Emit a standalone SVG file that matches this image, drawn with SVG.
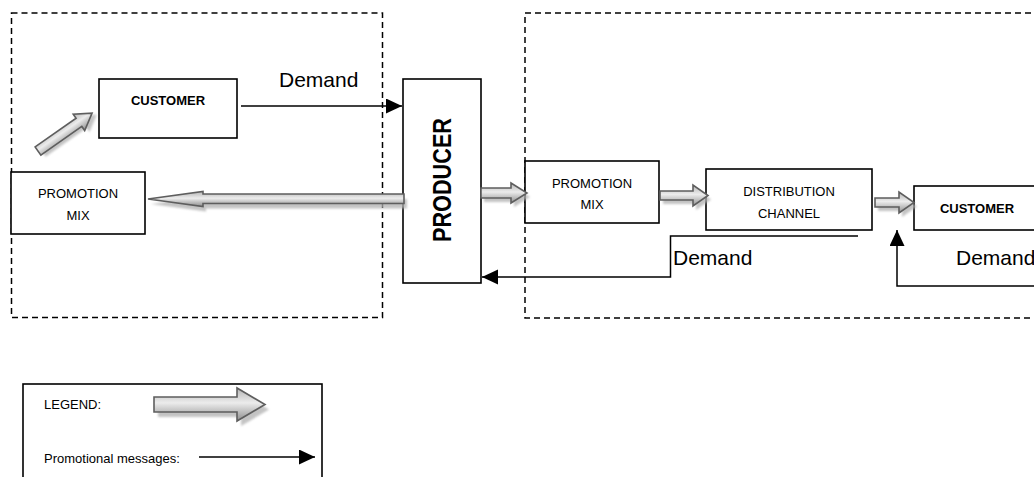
<svg xmlns="http://www.w3.org/2000/svg" width="1034" height="477" viewBox="0 0 1034 477">
  <style>
    .box { fill: #fff; stroke: #000; stroke-width: 1.6; }
    .zone { fill: none; stroke: #000; stroke-width: 1.5; stroke-dasharray: 6 4; }
    .wire { fill: none; stroke: #000; stroke-width: 1.5; }
    .fat { fill: url(#fatFill); stroke: #5e5e5e; stroke-width: 1.6; stroke-linejoin: miter; }
    .fatShadow { fill: #b0b0b0; opacity: 0.75; filter: url(#soft); }
    .lbl { font-family: "Liberation Sans", Arial, sans-serif; fill: #000; text-anchor: middle; }
    .small { font-size: 13px; }
    .bold { font-weight: bold; }
    .demand { font-family: "Liberation Sans", Arial, sans-serif; font-size: 21px; fill: #000; }
    .note { font-family: "Liberation Sans", Arial, sans-serif; font-size: 13px; fill: #000; }
  </style>
  <defs>
    <linearGradient id="fatFill" x1="0" y1="0" x2="0" y2="1">
      <stop offset="0" stop-color="#b4b4b4"/>
      <stop offset="0.45" stop-color="#ececec"/>
      <stop offset="1" stop-color="#8e8e8e"/>
    </linearGradient>
    <filter id="soft" x="-20%" y="-50%" width="140%" height="200%">
      <feGaussianBlur stdDeviation="1"/>
    </filter>
    <marker id="head" markerUnits="userSpaceOnUse" markerWidth="17" markerHeight="16" refX="16" refY="7.5" orient="auto">
      <path d="M0,0 L16,7.5 L0,15 Z" fill="#000"/>
    </marker>
  </defs>

  <!-- dashed zones -->
  <g id="zones">
    <rect class="zone" x="11.5" y="13" width="371" height="304.5"/>
    <rect class="zone" x="525" y="13" width="620" height="305"/>
  </g>

  <!-- nodes -->
  <g id="customer-left">
    <rect class="box" x="99" y="79" width="138" height="59"/>
    <text class="lbl small bold" x="168" y="105">CUSTOMER</text>
  </g>
  <g id="promotion-mix-left">
    <rect class="box" x="11" y="172" width="134" height="62"/>
    <text class="lbl small" x="78" y="198">PROMOTION</text>
    <text class="lbl small" x="78" y="220">MIX</text>
  </g>
  <g id="producer">
    <rect class="box" x="403" y="79" width="78" height="204"/>
    <text class="lbl bold" font-size="25" textLength="124" lengthAdjust="spacingAndGlyphs" transform="translate(451,180) rotate(-90)">PRODUCER</text>
  </g>
  <g id="promotion-mix-right">
    <rect class="box" x="525" y="161" width="134" height="62"/>
    <text class="lbl small" x="592" y="188">PROMOTION</text>
    <text class="lbl small" x="592" y="209">MIX</text>
  </g>
  <g id="distribution-channel">
    <rect class="box" x="706" y="169" width="166" height="61"/>
    <text class="lbl small" x="789" y="196">DISTRIBUTION</text>
    <text class="lbl small" x="789" y="218">CHANNEL</text>
  </g>
  <g id="customer-right">
    <rect class="box" x="914" y="186" width="140" height="44"/>
    <text class="lbl small bold" x="977" y="213">CUSTOMER</text>
  </g>

  <!-- connectors -->
  <g id="connectors">
    <!-- promotional flow (fat arrows) -->
    <g transform="translate(38,151) rotate(-35)">
      <polygon class="fatShadow" transform="translate(3,4)" points="0,-5 50,-5 50,-10 66,0 50,10 50,5 0,5"/>
      <polygon class="fat" points="0,-5 50,-5 50,-10 66,0 50,10 50,5 0,5"/>
    </g>
    <polygon class="fatShadow" transform="translate(3,5)" points="404,194 203,194 203,191.5 148,199 203,206.5 203,203.5 404,203.5"/>
    <polygon class="fat" points="404,194 203,194 203,191.5 148,199 203,206.5 203,203.5 404,203.5"/>

    <polygon class="fatShadow" transform="translate(3,4)" points="481,188 511,188 511,183 527,193 511,203 511,198 481,198"/>
    <polygon class="fat" points="481,188 511,188 511,183 527,193 511,203 511,198 481,198"/>

    <polygon class="fatShadow" transform="translate(3,4)" points="660,191 693,191 693,185 708,195.5 693,206 693,200 660,200"/>
    <polygon class="fat" points="660,191 693,191 693,185 708,195.5 693,206 693,200 660,200"/>

    <polygon class="fatShadow" transform="translate(3,4)" points="875,198 899,198 899,192 914,202.5 899,213 899,207 875,207"/>
    <polygon class="fat" points="875,198 899,198 899,192 914,202.5 899,213 899,207 875,207"/>

    <!-- demand lines -->
    <line class="wire" x1="241" y1="106" x2="402" y2="106" marker-end="url(#head)"/>
    <polyline class="wire" points="858,236 670.5,236 670.5,277 482,277" marker-end="url(#head)"/>
    <polyline class="wire" points="1040,286 897,286 897,230" marker-end="url(#head)"/>
  </g>

  <!-- demand labels -->
  <g id="labels">
    <text class="demand" x="279" y="87">Demand</text>
    <text class="demand" x="673" y="265">Demand</text>
    <text class="demand" x="956" y="265" font-size="20">Demand</text>
  </g>

  <!-- legend -->
  <g id="legend">
    <rect class="box" x="23" y="384" width="299" height="110"/>
    <text class="note" x="44" y="409">LEGEND:</text>
    <polygon class="fatShadow" transform="translate(4,5)" points="154,397 237,397 237,388 265,404.5 237,421 237,412 154,412"/>
    <polygon class="fat" points="154,397 237,397 237,388 265,404.5 237,421 237,412 154,412"/>
    <text class="note" x="44" y="463">Promotional messages:</text>
    <line class="wire" x1="199" y1="457" x2="315" y2="457" marker-end="url(#head)"/>
  </g>
</svg>
